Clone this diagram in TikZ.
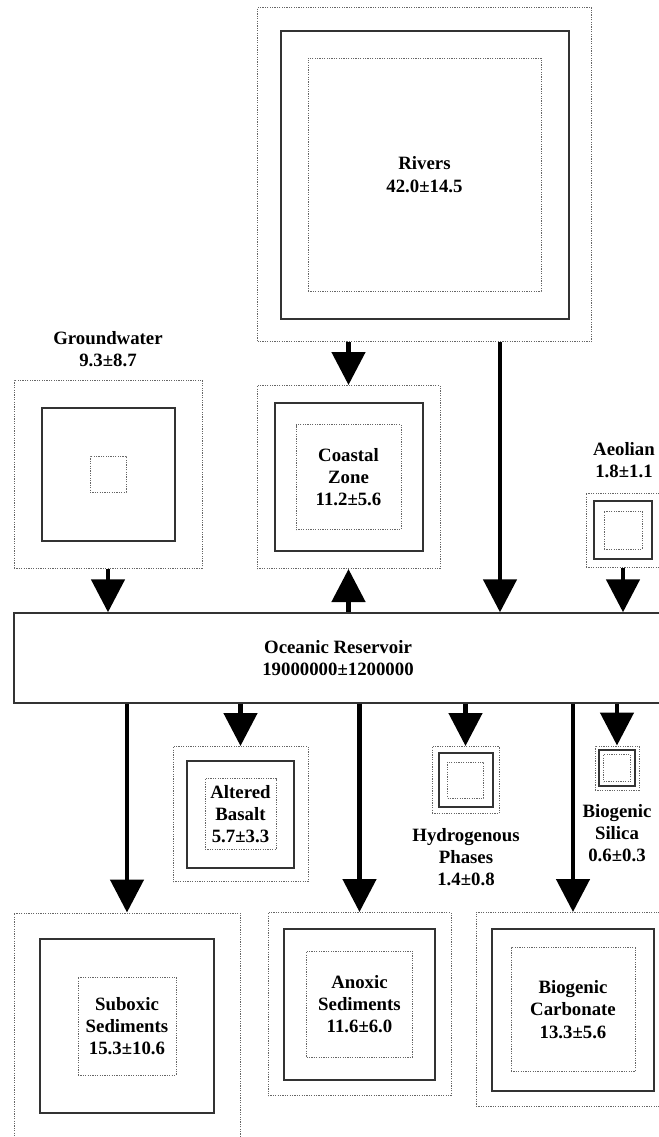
\documentclass[tikz,border=0pt]{standalone}
\usepackage{fontspec}
\setmainfont{Liberation Serif}
\usepackage{tikz}
\usetikzlibrary{positioning, arrows.meta}
\tikzset{
    huelle/.style = {draw=black!60, line width=0.5pt, dash pattern=on 0.6pt off 0.6pt,
                     inner sep=0pt},
    rahmen/.style = {draw=black!80, line width=1pt, inner sep=0pt},
    kern/.style   = {huelle, align=center, font=\fontsize{9.4}{11.2}\selectfont\bfseries},
    beschr/.style = {align=center, inner sep=1pt, font=\fontsize{9.4}{11.2}\selectfont\bfseries},
    fluss/.style  = {-{Triangle[width=16.5pt, length=16.5pt]}, line width=2.4pt}
}

\begin{document}
\begin{tikzpicture}[x=0.5pt, y=-0.5pt,
        gr/.style = {minimum size=#1*0.5pt}]

        \useasboundingbox (0,0) rectangle (659,1137);
        \clip (0,0) rectangle (659,1137);

        % --- Zufluesse ---
        \node[huelle, gr=334] (riv-a) at (424.5,174.5) {};
        \node[rahmen, gr=288] (riv-m) at (riv-a) {};
        \node[kern,   gr=233] (riv)   at (riv-a) {Rivers\\42.0±14.5};

        \node[huelle, gr=183] (kz-a) at (348.5,477) {};
        \node[rahmen, gr=148] (kz-m) at (kz-a) {};
        \node[kern,   gr=105] (kz)   at (kz-a) {Coastal\\Zone\\11.2±5.6};

        \node[huelle, gr=188] (gw-a) at (108,474) {};
        \node[rahmen, gr=133] (gw-m) at (gw-a) {};
        \node[huelle, gr=36]  (gw)   at (gw-a) {};
        \node[beschr] (gw-t) at (108,349) {Groundwater\\9.3±8.7};

        \node[huelle, gr=74] (ae-a) at (623,530) {};
        \node[rahmen, gr=58] (ae-m) at (ae-a) {};
        \node[huelle, gr=38] (ae)   at (ae-a) {};
        \node[beschr] (ae-t) at (624,460) {Aeolian\\1.8±1.1};

        % --- Reservoir ---
        \node[rahmen, line width=0.7pt, minimum width=648*0.5pt, minimum height=90*0.5pt,
              align=center, font=\fontsize{9.4}{11.2}\selectfont\bfseries]
              (res) at (338,658) {Oceanic Reservoir\\19000000±1200000};

        % --- Senken ---
        \node[huelle, gr=135] (ab-a) at (240.5,814) {};
        \node[rahmen, gr=107] (ab-m) at (ab-a) {};
        \node[kern,   gr=71]  (ab)   at (ab-a) {Altered\\Basalt\\5.7±3.3};

        \node[huelle, gr=67] (hy-a) at (465.5,780) {};
        \node[rahmen, gr=54] (hy-m) at (hy-a) {};
        \node[huelle, gr=36] (hy)   at (hy-a) {};
        \node[beschr] (hy-t) at (466,857) {Hydrogenous\\Phases\\1.4±0.8};

        \node[huelle, gr=44] (bs-a) at (617,768) {};
        \node[rahmen, gr=36] (bs-m) at (bs-a) {};
        \node[huelle, gr=27] (bs)   at (bs-a) {};
        \node[beschr] (bs-t) at (617,833) {Biogenic\\Silica\\0.6±0.3};

        \node[huelle, gr=226] (sub-a) at (127,1026) {};
        \node[rahmen, gr=174] (sub-m) at (sub-a) {};
        \node[kern,   gr=98]  (sub)   at (sub-a) {Suboxic\\Sediments\\15.3±10.6};

        \node[huelle, gr=183] (an-a) at (359.5,1004) {};
        \node[rahmen, gr=151] (an-m) at (an-a) {};
        \node[kern,   gr=106] (an)   at (an-a) {Anoxic\\Sediments\\11.6±6.0};

        \node[huelle, gr=194] (bc-a) at (573,1009.5) {};
        \node[rahmen, gr=162] (bc-m) at (bc-a) {};
        \node[kern,   gr=124] (bc)   at (bc-a) {Biogenic\\Carbonate\\13.3±5.6};

        % --- Fluesse ---
        \draw[fluss] (riv-a.south -| kz-a.north) -- (kz-a.north);
        \draw[fluss] ([xshift=37.75pt]riv-a.south) coordinate (rq) -- (rq |- res.north);
        \draw[fluss] (gw-a.south) -- (res.north -| gw-a.south);
        \draw[fluss] (ae-a.south) -- (res.north -| ae-a.south);
        \draw[fluss] (res.north -| kz-a.south) -- (kz-a.south);

        \draw[fluss] (res.south -| sub-a.north) -- (sub-a.north);
        \draw[fluss] (res.south -| ab-a.north)  -- (ab-a.north);
        \draw[fluss] (res.south -| an-a.north)  -- (an-a.north);
        \draw[fluss] (res.south -| hy-a.north)  -- (hy-a.north);
        \draw[fluss] (res.south -| bc-a.north)  -- (bc-a.north);
        \draw[fluss] (res.south -| bs-a.north)  -- (bs-a.north);
    \end{tikzpicture}
\end{document}
